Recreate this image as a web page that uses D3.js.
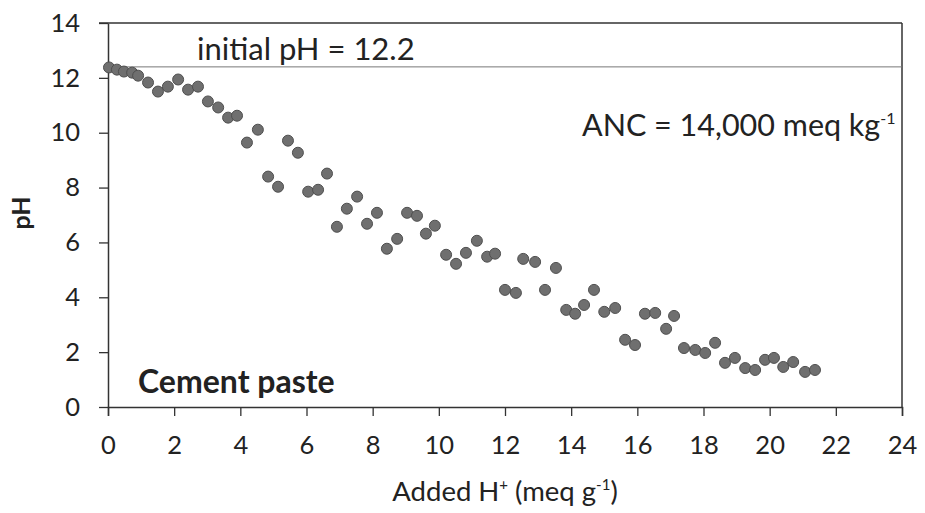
<!DOCTYPE html>
<html>
<head>
<meta charset="utf-8">
<script src="https://cdn.jsdelivr.net/npm/d3@7"></script>
<style>
  body { margin:0; background:#fff; }
  text { font-family: Lato, "Open Sans", sans-serif; fill:#222; }
</style>
</head>
<body>
<div id="chartContainer"></div>
<script>

// --------- data
var addedH = [0.03,0.27,0.48,0.73,0.91,1.21,1.51,1.81,2.12,2.42,2.72,3.02,3.33,3.63,3.90,
              4.20,4.53,4.84,5.14,5.44,5.74,6.05,6.35,6.62,6.92,7.22,7.53,7.83,8.13,8.43,
              8.74,9.04,9.34,9.61,9.88,10.22,10.52,10.82,11.15,11.46,11.70,12.00,12.33,12.55,
              12.91,13.21,13.54,13.85,14.12,14.39,14.69,15.00,15.33,15.63,15.93,16.23,16.54,
              16.87,17.11,17.41,17.75,18.05,18.35,18.65,18.95,19.26,19.56,19.86,20.13,20.41,
              20.71,21.07,21.37];
var phValues = [12.38,12.30,12.23,12.19,12.08,11.83,11.50,11.68,11.94,11.57,11.68,11.14,10.92,10.55,10.62,
                9.64,10.11,8.40,8.03,9.71,9.27,7.85,7.92,8.51,6.57,7.23,7.67,6.68,7.08,5.77,
                6.13,7.08,6.97,6.32,6.61,5.55,5.22,5.62,6.06,5.48,5.59,4.27,4.16,5.40,
                5.29,4.27,5.07,3.54,3.40,3.72,4.27,3.47,3.61,2.45,2.26,3.40,3.43,
                2.85,3.32,2.15,2.08,1.97,2.34,1.61,1.79,1.42,1.35,1.72,1.79,1.46,
                1.64,1.28,1.35];
var xTicks = [0,2,4,6,8,10,12,14,16,18,20,22,24];
var yTicks = [0,2,4,6,8,10,12,14];
var initialPhLine = 12.4;   // where the reference line sits in the picture

var data = addedH.map(function(x, i) { return { h: x, ph: phValues[i] }; });

var margin = { left:108, right:23, top:23, bottom:106 };
var w = 925 - margin.left - margin.right;
var h = 513 - margin.top - margin.bottom;

var svg = d3.select("#chartContainer")
            .append("svg")
            .attr("width", 925)
            .attr("height", 513);

var g = svg.append("g")
           .attr("transform", "translate(" + margin.left + "," + margin.top + ")");

var xScale = d3.scaleLinear().domain([0, 24]).range([0, w]);
var yScale = d3.scaleLinear().domain([0, 14]).range([h, 0]);

// --------- axes
var xAxis = d3.axisBottom(xScale).tickValues(xTicks).tickSize(9).tickSizeOuter(9).tickPadding(20);
var yAxis = d3.axisLeft(yScale).tickValues(yTicks).tickSize(9).tickSizeOuter(0).tickPadding(19);

var xAxisGroup = g.append("g")
                  .attr("transform", "translate(0," + h + ")")
                  .call(xAxis);
var yAxisGroup = g.append("g").call(yAxis);

[xAxisGroup, yAxisGroup].forEach(function(ax) {
    ax.select(".domain").attr("stroke", "#333").attr("stroke-width", 1.5);
    ax.selectAll(".tick line").attr("stroke", "#333").attr("stroke-width", 1.3);
    ax.selectAll("text")
      .attr("font-family", "Lato, sans-serif")
      .attr("font-size", 25.5)
      .attr("fill", "#222");
});

// --------- top & right frame
g.append("line")
    .attr("x1", -9).attr("x2", w)
    .attr("y1", yScale(14)).attr("y2", yScale(14))
    .attr("stroke", "#333").attr("stroke-width", 1.5);
g.append("line")
    .attr("x1", w).attr("x2", w)
    .attr("y1", yScale(14)).attr("y2", h)
    .attr("stroke", "#333").attr("stroke-width", 1.5);

// --------- initial pH reference line
g.append("line")
    .attr("x1", 0).attr("x2", w)
    .attr("y1", yScale(initialPhLine)).attr("y2", yScale(initialPhLine))
    .attr("stroke", "#777").attr("stroke-width", 1);

// --------- points
g.selectAll(".phDots")
    .data(data)
    .enter().append("circle")
    .attr("class", "phDots")
    .attr("r", 5.5)
    .attr("cx", function(d) { return xScale(d.h); })
    .attr("cy", function(d) { return yScale(d.ph); })
    .style("fill", "#6f6f6f")
    .style("stroke", "#4f4f4f")
    .style("stroke-width", 1);

// --------- annotations
svg.append("text")
    .attr("x", 197).attr("y", 60)
    .attr("font-size", 31)
    .text("initial pH = 12.2");

var anc = svg.append("text")
    .attr("x", 582).attr("y", 136)
    .attr("font-size", 30.5)
    .text("ANC = 14,000 meq kg");
anc.append("tspan").attr("font-size", 16).attr("dy", -12).text("-1");

svg.append("text")
    .attr("x", 138).attr("y", 393)
    .attr("font-size", 32)
    .attr("font-weight", "bold")
    .text("Cement paste");

// --------- axis labels
var xLabel = svg.append("text")
    .attr("x", 505).attr("y", 501)
    .attr("font-size", 27.5)
    .attr("text-anchor", "middle")
    .text("Added H");
xLabel.append("tspan").attr("font-size", 15).attr("dy", -11).text("+");
xLabel.append("tspan").attr("dy", 11).text(" (meq g");
xLabel.append("tspan").attr("font-size", 15).attr("dy", -11).text("-1");
xLabel.append("tspan").attr("dy", 11).text(")");

svg.append("text")
    .attr("transform", "translate(30,213) rotate(-90)")
    .attr("font-size", 25)
    .attr("font-weight", "bold")
    .attr("text-anchor", "middle")
    .text("pH");

</script>
</body>
</html>
